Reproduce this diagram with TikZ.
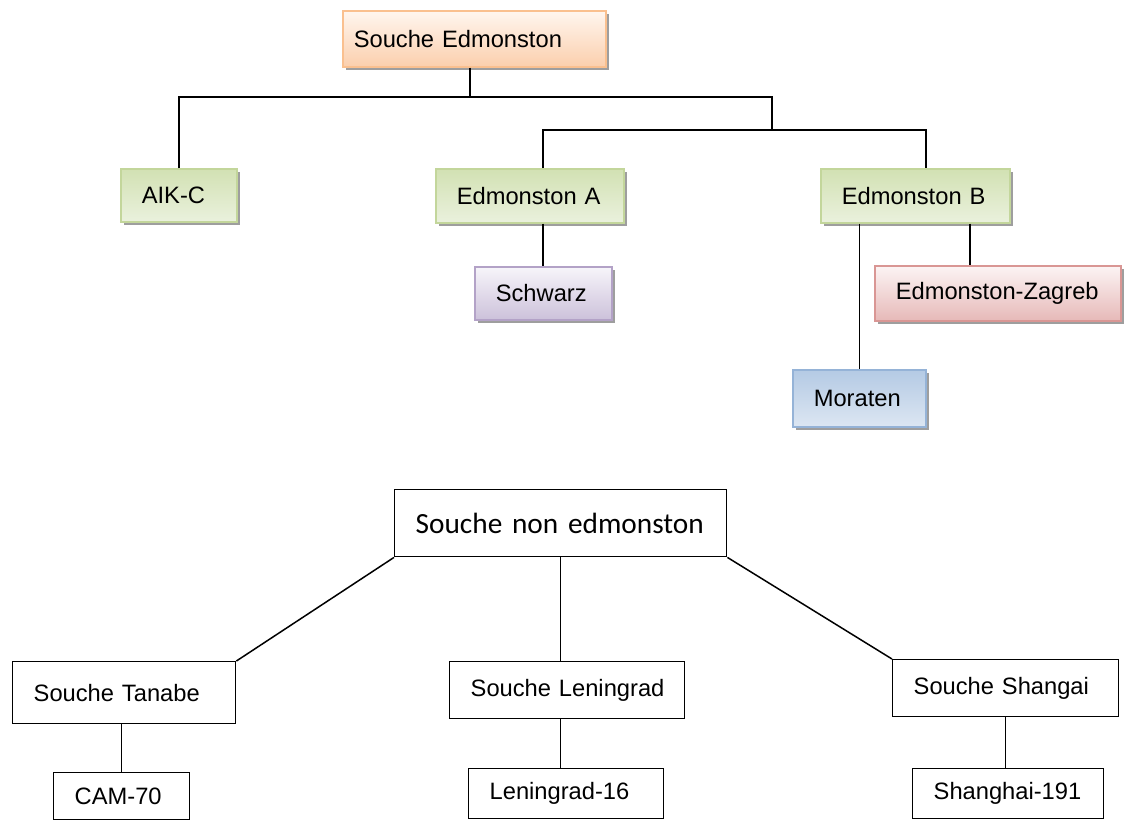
\documentclass[tikz,border=0pt]{standalone}
\usepackage{fontspec}
\setmainfont{Liberation Sans}
\newfontfamily\calibri{Carlito}
\usetikzlibrary{shadows}

\definecolor{orangeline}{HTML}{FAC08F}
\definecolor{orangetop}{HTML}{FFF6EF}
\definecolor{orangebot}{HTML}{FBCFAD}
\definecolor{greenline}{HTML}{C3D69B}
\definecolor{greentop}{HTML}{D2E1B3}
\definecolor{greenbot}{HTML}{EAF1DD}
\definecolor{purpleline}{HTML}{B3A2C7}
\definecolor{purpletop}{HTML}{F7F5FA}
\definecolor{purplebot}{HTML}{CCC1DA}
\definecolor{blueline}{HTML}{95B3D7}
\definecolor{bluetop}{HTML}{B4CAE4}
\definecolor{bluebot}{HTML}{DCE6F2}
\definecolor{redline}{HTML}{D99694}
\definecolor{redtop}{HTML}{FCF4F4}
\definecolor{redbot}{HTML}{E6B9B8}

\begin{document}
\begin{tikzpicture}[
    x=1pt, y=-1pt,
    every node/.style={anchor=north west, inner xsep=21pt, inner ysep=0pt, align=left,
        font=\fontsize{23.7}{28}\selectfont,
        execute at begin node={\hbox\bgroup}, execute at end node={\egroup}},
    box/.style={draw=#1line, line width=1.6pt, top color=#1top, bottom color=#1bot,
        general shadow={fill=black!38, shadow xshift=3.5pt, shadow yshift=-3.5pt}},
    plain/.style={draw, line width=1.4pt, fill=white},
    link/.style={line width=1.5pt}
]
    \useasboundingbox (0,0) rectangle (1124,823);

    \node [box=orange, inner xsep=11pt, text width=241pt, minimum height=56pt] (se) at (342,10) {Souche Edmonston};
    \node [box=green, text width=74pt, minimum height=53pt] (aikc) at (120,168) {AIK-C};
    \node [box=green, text width=146pt, minimum height=54pt] (edA) at (435,168) {Edmonston A};
    \node [box=green, text width=147pt, minimum height=54pt] (edB) at (820,168) {Edmonston B};
    \node [box=purple, text width=95pt, minimum height=53pt] (schwarz) at (474,266) {Schwarz};
    \node [box=red, text width=204pt, minimum height=55pt] (zagreb) at (874,265) {Edmonston-Zagreb};
    \node [box=blue, text width=91pt, minimum height=57pt] (moraten) at (792,369) {Moraten};

    \coordinate (b1) at (470,97);
    \coordinate (b2) at (772,130);
    \coordinate (b3) at (543,130);
    \coordinate (b4) at (926,130);
    \coordinate (b5) at (970,222);

    \draw [link] (se.south -| b1) -- (b1);
    \draw [link] (aikc.north) |- (b1) -| (b2);
    \draw [link] (edA.north -| b3) -- (b3) -- (b4) -- (edB.north -| b4);
    \draw [link] (edA.south -| b3) -- (schwarz.north -| b3);
    \draw [link] (edB.south -| b5) -- (zagreb.north -| b5);
    \draw [link] (edB.south -| moraten.north) -- (moraten.north);

    \node [plain, text width=290pt, minimum height=67pt, font=\calibri\fontsize{29.3}{34}\selectfont] (sne) at (394,489) {Souche non edmonston};
    \node [plain, text width=181pt, minimum height=62pt] (tanabe) at (12,661) {Souche Tanabe};
    \node [plain, text width=193pt, minimum height=57pt] (len) at (449,661) {Souche Leningrad};
    \node [plain, text width=184pt, minimum height=57pt] (shangai) at (892,659) {Souche Shangai};
    \node [plain, text width=94pt, minimum height=47pt] (cam) at (53,772) {CAM-70};
    \node [plain, text width=153pt, minimum height=50pt] (len16) at (468,768) {Leningrad-16};
    \node [plain, text width=149pt, minimum height=50pt] (sh191) at (912,768) {Shanghai-191};

    \draw [link] (sne.south west) -- (tanabe.north east);
    \draw [link] (sne.south) -- (sne.south |- len.north);
    \draw [link] (sne.south east) -- (shangai.north west);
    \draw [link] (cam.north |- tanabe.south) -- (cam.north);
    \draw [link] (sne.south |- len.south) -- (sne.south |- len16.north);
    \draw [link] (shangai.south) -- (shangai.south |- sh191.north);
\end{tikzpicture}
\end{document}
